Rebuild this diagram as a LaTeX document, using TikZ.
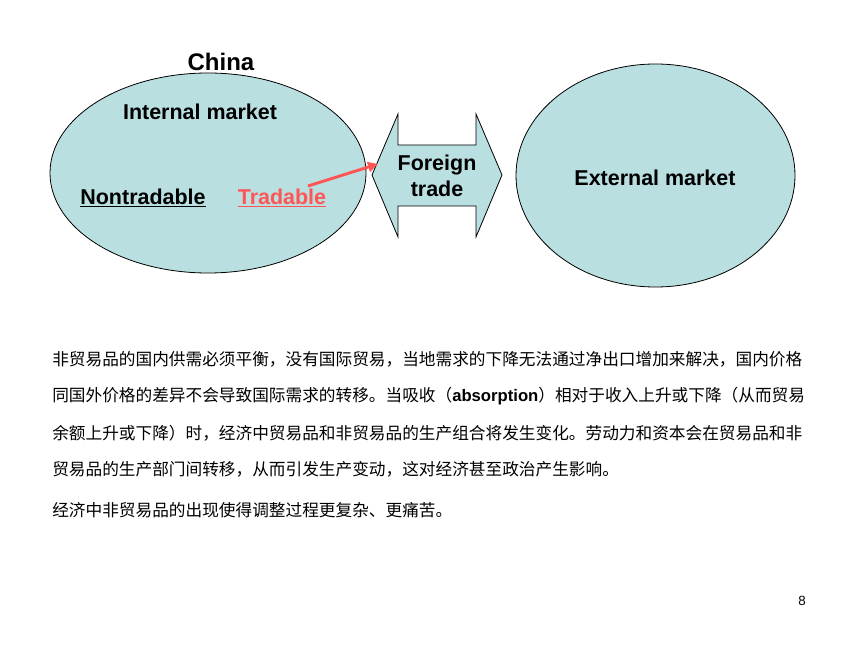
\documentclass[tikz,border=0pt]{standalone}
\usepackage{fontspec}
\setmainfont{Liberation Sans}
\newfontfamily\cjk{Noto Sans CJK SC}
\usetikzlibrary{shapes.geometric,arrows.meta}
\definecolor{mktfill}{RGB}{185,223,225}
\definecolor{tradred}{RGB}{255,85,85}
\XeTeXlinebreaklocale "zh"
\XeTeXlinebreakskip=0pt plus 2pt
\tikzset{
  market/.style={ellipse, draw=black, line width=0.6pt, fill=mktfill, inner sep=0pt},
  lbl/.style={font=\bfseries\fontsize{16.1}{19.5}\selectfont, inner sep=0pt},
  bodyline/.style={anchor=west, inner sep=0pt, text width=573pt, font=\cjk\fontsize{12.5}{15}\selectfont},
}
\begin{document}
\begin{tikzpicture}[x=0.75pt,y=-0.75pt]
\useasboundingbox (0,0) rectangle (860,645);
\fill[white] (0,0) rectangle (860,645);
% ellipses
\node[market, minimum width=237pt, minimum height=150pt] (intm) at (208,173) {};
\node[market, minimum width=209.25pt, minimum height=167.25pt] (extm) at (655.5,175.5) {};
% double arrow
\draw[line width=0.6pt, fill=mktfill] (372,175) -- (398,114) -- (398,145) -- (476,145) -- (476,114) -- (502,175) -- (476,237) -- (476,206) -- (398,206) -- (398,237) -- cycle;
\coordinate (ftip) at (378,164);
% labels
\node[font=\bfseries\fontsize{18}{21}\selectfont, inner sep=0pt] (china) at (221,62) {China};
\node[lbl] (intlbl) at (200,112) {Internal market};
\node[lbl] (nontr) at (143,198) {\underline{Nontradable}};
\node[lbl, text=tradred] (trad) at (282,198) {\underline{Tradable}};
\node[lbl, align=center] (ft) at (437,176) {Foreign\\trade};
\node[lbl] (extlbl) at (655,178) {External market};
% red arrow
\coordinate (tstart) at (308,186);
\draw[tradred, line width=2.2pt, -{Triangle[length=7.5pt,width=7.5pt]}] (tstart) -- (ftip);
% body text
\node[bodyline, align=justify] (l1) at (52,359) {\parfillskip=0pt 非贸易品的国内供需必须平衡，没有国际贸易，当地需求的下降无法通过净出口增加来解决，国内价格};
\node[bodyline, align=justify] (l2) at (52,396) {\parfillskip=0pt 同国外价格的差异不会导致国际需求的转移。当吸收（{\rmfamily\bfseries absorption}）相对于收入上升或下降（从而贸易};
\node[bodyline, align=justify] (l3) at (52,433) {\parfillskip=0pt 余额上升或下降）时，经济中贸易品和非贸易品的生产组合将发生变化。劳动力和资本会在贸易品和非};
\node[bodyline, align=left] (l4) at (52,469) {贸易品的生产部门间转移，从而引发生产变动，这对经济甚至政治产生影响。};
\node[bodyline, align=left] (l5) at (52,510) {经济中非贸易品的出现使得调整过程更复杂、更痛苦。};
% page number
\node[font=\fontsize{10}{12}\selectfont, inner sep=0pt] (pg) at (802,601) {8};
\end{tikzpicture}
\end{document}
